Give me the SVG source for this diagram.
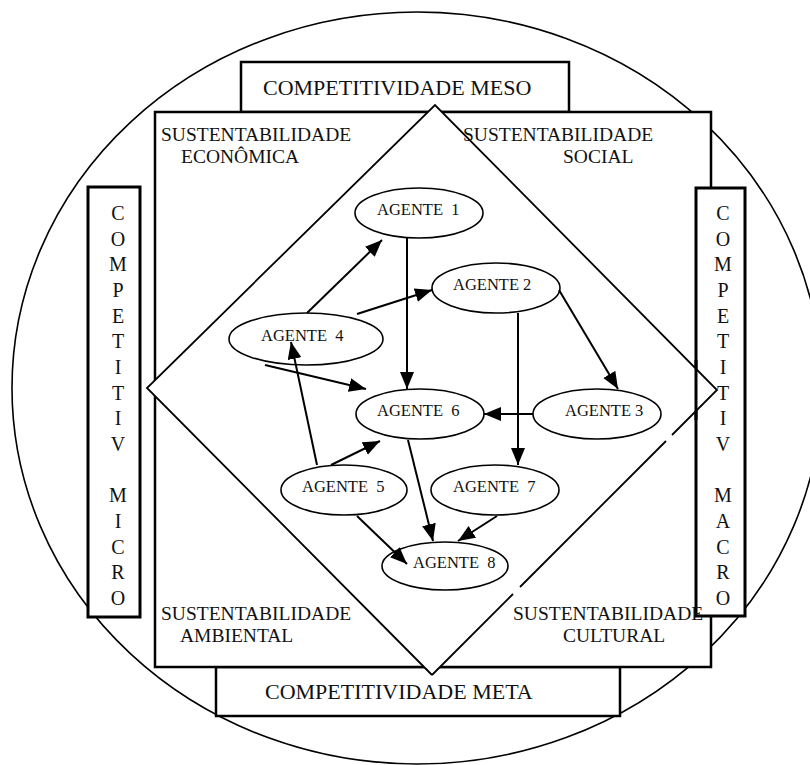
<svg xmlns="http://www.w3.org/2000/svg" width="810" height="765" viewBox="0 0 810 765">
  <style>
    .txt { font-family: "Liberation Serif", "Times New Roman", serif; fill: #111; }
    .lbl { font-size: 19.5px; }
    .big { font-size: 22px; }
    .vert { font-size: 20px; text-anchor: middle; }
    .ag { font-size: 16.5px; white-space: pre; }
    .box { fill: #fff; stroke: #000; stroke-width: 2.5; }
    .side { fill: #fff; stroke: #000; stroke-width: 3; }
    .node { fill: #fff; stroke: #000; stroke-width: 1.6; }
    .edge { stroke: #000; stroke-width: 2; fill: none; marker-end: url(#arrow); }
  </style>
  <defs>
    <marker id="arrow" markerUnits="userSpaceOnUse" markerWidth="18" markerHeight="15" refX="17" refY="7" orient="auto">
      <path d="M0,0 L17,7 L0,14 Z" fill="#000"/>
    </marker>
  </defs>

  <rect x="0" y="0" width="810" height="765" fill="#fff"/>

  <!-- outer circle -->
  <ellipse id="outer" cx="417" cy="388" rx="405" ry="376" fill="none" stroke="#000" stroke-width="1.6"/>

  <!-- competitiveness frames -->
  <g id="meso">
    <rect class="box" x="241" y="62" width="328" height="50"/>
    <text class="txt big" x="263" y="95">COMPETITIVIDADE MESO</text>
  </g>
  <g id="meta">
    <rect class="box" x="216" y="667" width="404" height="49"/>
    <text class="txt big" x="265" y="699">COMPETITIVIDADE META</text>
  </g>
  <g id="square">
    <rect class="box" x="155" y="112" width="556" height="555"/>
  </g>
  <g id="micro">
    <rect class="side" x="88" y="187" width="52" height="430"/>
  </g>
  <g id="macro">
    <rect class="side" x="696" y="188" width="49" height="428"/>
  </g>

  <!-- sustainability diamond -->
  <g id="diamond">
    <polygon points="435,105 717,390 432,675 147,388" fill="#fff"/>
    <path d="M432,675 L147,388 L435,105 L717,390 L672,435 M666,441 L520,587 M513,594 L432,675" fill="none" stroke="#000" stroke-width="1.8" stroke-linejoin="miter"/>
    <line x1="696" y1="360" x2="696" y2="420" stroke="#000" stroke-width="3"/>
  </g>

  <!-- vertical labels -->
  <g id="micro-label" class="txt vert">
    <text x="118" y="220">C</text>
    <text x="118" y="246">O</text>
    <text x="118" y="271">M</text>
    <text x="118" y="297">P</text>
    <text x="118" y="323">E</text>
    <text x="118" y="348">T</text>
    <text x="118" y="374">I</text>
    <text x="118" y="400">T</text>
    <text x="118" y="425">I</text>
    <text x="118" y="451">V</text>
    <text x="118" y="502">M</text>
    <text x="118" y="528">I</text>
    <text x="118" y="554">C</text>
    <text x="118" y="579">R</text>
    <text x="118" y="605">O</text>
  </g>
  <g id="macro-label" class="txt vert">
    <text x="723" y="220">C</text>
    <text x="723" y="246">O</text>
    <text x="723" y="271">M</text>
    <text x="723" y="297">P</text>
    <text x="723" y="323">E</text>
    <text x="723" y="348">T</text>
    <text x="723" y="374">I</text>
    <text x="723" y="400">T</text>
    <text x="723" y="425">I</text>
    <text x="723" y="451">V</text>
    <text x="723" y="502">M</text>
    <text x="723" y="528">A</text>
    <text x="723" y="554">C</text>
    <text x="723" y="579">R</text>
    <text x="723" y="605">O</text>
  </g>

  <!-- quadrant labels -->
  <g id="economica" class="txt lbl">
    <text x="161" y="141">SUSTENTABILIDADE</text>
    <text x="181" y="163">ECONÔMICA</text>
  </g>
  <g id="social" class="txt lbl">
    <text x="463" y="141">SUSTENTABILIDADE</text>
    <text x="563" y="163">SOCIAL</text>
  </g>
  <g id="ambiental" class="txt lbl">
    <text x="161" y="620">SUSTENTABILIDADE</text>
    <text x="180" y="642">AMBIENTAL</text>
  </g>
  <g id="cultural" class="txt lbl">
    <text x="513" y="620">SUSTENTABILIDADE</text>
    <text x="563" y="642">CULTURAL</text>
  </g>

  <!-- agents -->
  <g id="agente1">
    <ellipse class="node" cx="419" cy="213" rx="64" ry="25"/>
    <text class="txt ag" x="377" y="215">AGENTE  1</text>
  </g>
  <g id="agente2">
    <ellipse class="node" cx="496" cy="288" rx="64" ry="25"/>
    <text class="txt ag" x="453" y="290">AGENTE 2</text>
  </g>
  <g id="agente4">
    <ellipse class="node" cx="306" cy="339" rx="77" ry="26"/>
    <text class="txt ag" x="261" y="341">AGENTE  4</text>
  </g>
  <g id="agente6">
    <ellipse class="node" cx="420" cy="414" rx="64" ry="25"/>
    <text class="txt ag" x="377" y="416">AGENTE  6</text>
  </g>
  <g id="agente3">
    <ellipse class="node" cx="597" cy="414" rx="64" ry="25"/>
    <text class="txt ag" x="565" y="416">AGENTE 3</text>
  </g>
  <g id="agente5">
    <ellipse class="node" cx="344" cy="490" rx="63" ry="25"/>
    <text class="txt ag" x="302" y="492">AGENTE  5</text>
  </g>
  <g id="agente7">
    <ellipse class="node" cx="495" cy="490" rx="64" ry="25"/>
    <text class="txt ag" x="453" y="492">AGENTE  7</text>
  </g>
  <g id="agente8">
    <ellipse class="node" cx="445" cy="566" rx="63" ry="24"/>
    <text class="txt ag" x="413" y="568">AGENTE  8</text>
  </g>

  <!-- connectors -->
  <g id="connectors">
    <line class="edge" x1="307" y1="313" x2="382" y2="240"/>
    <line class="edge" x1="357" y1="314" x2="432" y2="290"/>
    <line class="edge" x1="407" y1="238" x2="407" y2="389"/>
    <line class="edge" x1="265" y1="365" x2="366" y2="389"/>
    <line class="edge" x1="559" y1="290" x2="618" y2="389"/>
    <line class="edge" x1="518" y1="313" x2="518" y2="465"/>
    <line class="edge" x1="533" y1="414" x2="484" y2="414"/>
    <line class="edge" x1="317" y1="465" x2="291" y2="342"/>
    <line class="edge" x1="331" y1="465" x2="380" y2="441"/>
    <line class="edge" x1="408" y1="440" x2="433" y2="541"/>
    <line class="edge" x1="497" y1="516" x2="458" y2="541"/>
    <line class="edge" x1="357" y1="516" x2="407" y2="564"/>
  </g>
</svg>
